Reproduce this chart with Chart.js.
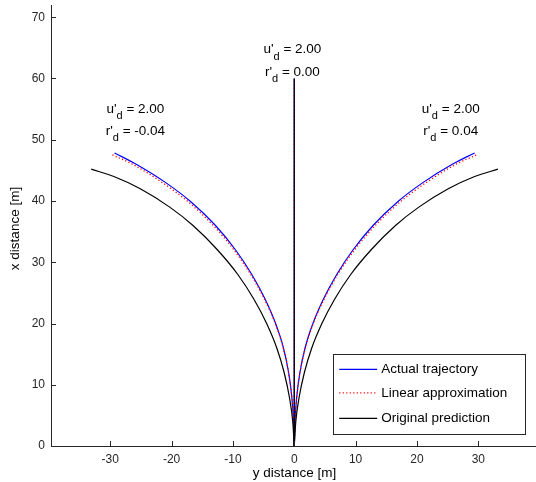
<!DOCTYPE html>
<html><head><meta charset="utf-8">
<script src="https://cdn.jsdelivr.net/npm/chart.js@4.4.1/dist/chart.umd.min.js"></script>
<style>html,body{margin:0;padding:0;background:#fff;overflow:hidden}#wrap{width:536px;height:482px;position:relative}</style>
</head><body><div id="wrap"><canvas id="c" width="536" height="482"></canvas></div>
<script>
// Tick values
const xTicks = [-30, -20, -10, 0, 10, 20, 30];
const yTicks = [0, 10, 20, 30, 40, 50, 60, 70];

// Legend labels
const seriesNames = ['Actual trajectory', 'Linear approximation', 'Original prediction'];

// r'_d = -0.04 (left turn): lateral (y distance) and forward (x distance)
const actualLeftLat = [0, -0.12, -0.40, -0.92, -1.76, -3.04, -4.76, -6.92, -9.56, -12.84, -17.0, -20.96, -25.76, -29.3];
const actualLeftFwd = [0, 4, 8, 12, 16, 20, 24, 28, 32, 36, 40, 43, 46, 47.85];
const linearLeftLat = [0, -0.12, -0.41, -0.94, -1.8, -3.1, -4.88, -7.1, -9.82, -13.2, -17.45, -21.5, -26.35, -29.7];
const linearLeftFwd = [0, 4, 8, 12, 16, 20, 24, 28, 32, 36, 40, 43, 46, 47.55];
const originalLeftLat = [0, -0.25, -0.8, -1.65, -2.85, -4.5, -6.6, -9.2, -12.5, -16.5, -20.3, -25.1, -29.4, -33.1];
const originalLeftFwd = [0, 4, 8, 12, 16, 20, 24, 28, 32, 36, 39, 42, 44, 45.2];

// r'_d = 0.00 (straight)
const actualCenterLat = [0, 0];
const actualCenterFwd = [0, 60];
const linearCenterLat = [0, 0];
const linearCenterFwd = [0, 60];
const originalCenterLat = [0, 0];
const originalCenterFwd = [0, 60];

// r'_d = 0.04 (right turn)
const actualRightLat = [0, 0.12, 0.40, 0.92, 1.76, 3.04, 4.76, 6.92, 9.56, 12.84, 17.0, 20.96, 25.76, 29.4];
const actualRightFwd = [0, 4, 8, 12, 16, 20, 24, 28, 32, 36, 40, 43, 46, 47.85];
const linearRightLat = [0, 0.12, 0.41, 0.94, 1.8, 3.1, 4.88, 7.1, 9.82, 13.2, 17.45, 21.5, 26.35, 29.8];
const linearRightFwd = [0, 4, 8, 12, 16, 20, 24, 28, 32, 36, 40, 43, 46, 47.55];
const originalRightLat = [0, 0.25, 0.8, 1.65, 2.85, 4.5, 6.6, 9.2, 12.5, 16.5, 20.3, 25.1, 29.4, 33.2];
const originalRightFwd = [0, 4, 8, 12, 16, 20, 24, 28, 32, 36, 39, 42, 44, 45.2];

// Annotation texts
const annU = ['2.00', '2.00', '2.00'];
const annR = ['-0.04', '0.00', '0.04'];

function pts(lat, fwd) { return lat.map((v, i) => ({ x: v, y: fwd[i] })); }

const BLUE = '#0000ff', RED = '#ff0000', BLACK = '#000000';
const DOT = [1.2, 2.3];
function ds(label, lat, fwd, color, dash) {
  const curved = lat.length > 2;
  const o = {
    label, data: pts(lat, fwd), showLine: true, borderColor: color, backgroundColor: color,
    borderWidth: dash ? 1.3 : 1.2, borderDash: dash || [], pointRadius: 0, pointHoverRadius: 0,
    tension: 0, fill: false
  };
  if (curved) o.cubicInterpolationMode = 'monotone';
  return o;
}

const datasets = [
  ds(seriesNames[2], originalLeftLat, originalLeftFwd, BLACK),
  ds(seriesNames[2], originalCenterLat, originalCenterFwd, BLACK),
  ds(seriesNames[2], originalRightLat, originalRightFwd, BLACK),
  ds(seriesNames[1], linearLeftLat, linearLeftFwd, RED, DOT),
  ds(seriesNames[1], linearCenterLat, linearCenterFwd, RED, DOT),
  ds(seriesNames[1], linearRightLat, linearRightFwd, RED, DOT),
  ds(seriesNames[0], actualLeftLat, actualLeftFwd, BLUE),
  ds(seriesNames[0], actualCenterLat, actualCenterFwd, BLUE),
  ds(seriesNames[0], actualRightLat, actualRightFwd, BLUE)
];

const FONT = '"Liberation Sans", Arial, Helvetica, sans-serif';
const AXC = '#262626';

function drawTex(ctx, parts, cx, base) {
  let total = 0;
  parts.forEach(p => { ctx.font = (p.sub ? '11px ' : '13.5px ') + FONT; p.w = ctx.measureText(p.t).width; total += p.w; });
  let x = cx - total / 2;
  parts.forEach(p => {
    ctx.font = (p.sub ? '11px ' : '13.5px ') + FONT;
    ctx.fillText(p.t, x, base + (p.sub ? 6.3 : 0));
    x += p.w;
  });
}

const overlay = {
  id: 'overlay',
  afterDraw(chart) {
    const ctx = chart.ctx, xs = chart.scales.x, ys = chart.scales.y, ca = chart.chartArea;
    ctx.save();
    // inward tick marks
    ctx.strokeStyle = AXC; ctx.lineWidth = 1;
    ctx.beginPath();
    xTicks.forEach(v => { const px = Math.round(xs.getPixelForValue(v)) + 0.5; ctx.moveTo(px, ca.bottom); ctx.lineTo(px, ca.bottom - 5); });
    yTicks.forEach(v => { const py = Math.round(ys.getPixelForValue(v)) + 0.5; ctx.moveTo(ca.left, py); ctx.lineTo(ca.left + 5, py); });
    ctx.stroke();

    // axis titles
    ctx.fillStyle = '#000';
    ctx.font = '13.5px ' + FONT;
    ctx.textAlign = 'center'; ctx.textBaseline = 'alphabetic';
    ctx.fillText('y distance [m]', 294.5, 477);
    ctx.save();
    ctx.translate(19, (ca.top + ca.bottom) / 2 + 3);
    ctx.rotate(-Math.PI / 2);
    ctx.fillText('x distance [m]', 0, 0);
    ctx.restore();

    // annotations
    ctx.textAlign = 'left';
    const anchors = [[-25.9, 54.4], [-0.3, 64.1], [25.5, 54.4]];
    anchors.forEach((a, i) => {
      const cx = xs.getPixelForValue(a[0]);
      const b = ys.getPixelForValue(a[1]);
      drawTex(ctx, [{ t: "u'" }, { t: 'd', sub: true }, { t: ' = ' + annU[i] }], cx, b);
      drawTex(ctx, [{ t: "r'" }, { t: 'd', sub: true }, { t: ' = ' + annR[i] }], cx, b + 22.3);
    });

    // legend box
    const bx = ca.right - 203.3, by = ca.bottom - 91.7, bw = 191.6, bh = 79.7;
    ctx.fillStyle = '#fff';
    ctx.fillRect(bx, by, bw, bh);
    ctx.strokeStyle = AXC; ctx.lineWidth = 1;
    ctx.strokeRect(Math.round(bx) + 0.5, Math.round(by) + 0.5, Math.round(bw), Math.round(bh));
    const rows = [15, 38.5, 64];
    const styles = [[BLUE, []], [RED, DOT], [BLACK, []]];
    seriesNames.forEach((name, i) => {
      const y = by + rows[i];
      ctx.strokeStyle = styles[i][0]; ctx.setLineDash(styles[i][1]); ctx.lineWidth = 1.3;
      ctx.beginPath(); ctx.moveTo(bx + 6.5, y); ctx.lineTo(bx + 44.5, y); ctx.stroke();
      ctx.setLineDash([]);
      ctx.fillStyle = '#000'; ctx.font = '13.5px ' + FONT; ctx.textBaseline = 'middle';
      ctx.fillText(name, bx + 48.5, y);
    });
    ctx.restore();
  }
};

new Chart(document.getElementById('c'), {
  type: 'scatter',
  data: { datasets },
  options: {
    responsive: false, animation: false,
    layout: { padding: { top: 5, left: 0, right: 0, bottom: 0 } },
    plugins: { legend: { display: false }, tooltip: { enabled: false } },
    scales: {
      x: {
        type: 'linear', min: -39.65, max: 39.4,
        afterBuildTicks: s => { s.ticks = xTicks.map(v => ({ value: v })); },
        afterFit: s => { s.height = 36; s.paddingLeft = 0; s.paddingRight = 0; },
        grid: { display: false, drawTicks: false },
        border: { display: true, color: AXC, width: 1 },
        ticks: { color: AXC, font: { family: FONT, size: 12 }, padding: 6, maxRotation: 0, autoSkip: false }
      },
      y: {
        type: 'linear', min: 0, max: 72,
        afterBuildTicks: s => { s.ticks = yTicks.map(v => ({ value: v })); },
        afterFit: s => { s.width = 51; s.paddingTop = 0; s.paddingBottom = 0; },
        grid: { display: false, drawTicks: false },
        border: { display: true, color: AXC, width: 1 },
        ticks: { color: AXC, font: { family: FONT, size: 12 }, padding: 6, autoSkip: false }
      }
    }
  },
  plugins: [overlay]
});
</script>
</body></html>
